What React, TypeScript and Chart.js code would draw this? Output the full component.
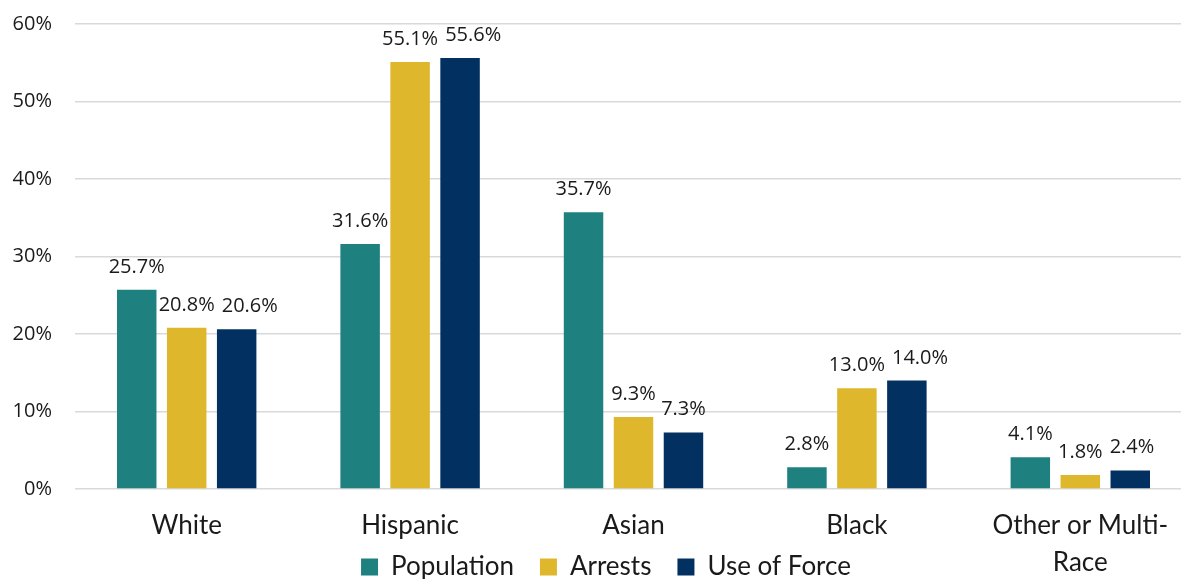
import React, { useEffect, useRef } from "react";
import { Chart, registerables } from "chart.js";

Chart.register(...registerables);

const categories: (string | string[])[] = ["White", "Hispanic", "Asian", "Black", ["Other or Multi-", "Race"]];
const population = [25.7, 31.6, 35.7, 2.8, 4.1];
const arrests = [20.8, 55.1, 9.3, 13.0, 1.8];
const useOfForce = [20.6, 55.6, 7.3, 14.0, 2.4];
const seriesNames = ["Population", "Arrests", "Use of Force"];
const seriesColors = ["#1F8080", "#DFB72D", "#023060"];
const yMin = 0;
const yMax = 60;
const yStep = 10;

const CANVAS_W = 1202;
const CANVAS_H = 651;
const LEGEND_TOP = 528;
const LEGEND_SHIFT_X = 10;

export default function App() {
  const ref = useRef<HTMLCanvasElement>(null);

  useEffect(() => {
    if (!ref.current) return;

    const valueLabels = {
      id: "valueLabels",
      afterDatasetsDraw(chart: any) {
        const ctx = chart.ctx;
        ctx.save();
        ctx.font = "20px 'Open Sans'";
        ctx.fillStyle = "#1a1a1a";
        ctx.textAlign = "left";
        ctx.textBaseline = "alphabetic";
        const nCats = chart.data.labels.length;
        const digitH = 15;
        const gap = 7;
        for (let j = 0; j < nCats; j++) {
          let prev: { l: number; r: number; t: number; b: number } | null = null;
          chart.data.datasets.forEach((ds: any, i: number) => {
            const bar: any = chart.getDatasetMeta(i).data[j];
            const text = (ds.data[j] as number).toFixed(1) + "%";
            const w = ctx.measureText(text).width;
            const base = bar.y - 17;
            let left = bar.x - w / 2;
            const box = { l: left, r: left + w, t: base - digitH, b: base };
            if (prev) {
              const yOverlap = Math.min(prev.b, box.b) - Math.max(prev.t, box.t);
              if (yOverlap > 3 && box.l < prev.r + gap) {
                left = prev.r + gap;
                box.l = left;
                box.r = left + w;
              }
            }
            ctx.fillText(text, left, base);
            prev = box;
          });
        }
        ctx.restore();
      },
    };

    const legendPlacer = {
      id: "legendPlacer",
      afterLayout(chart: any) {
        const lg = chart.legend;
        if (!lg) return;
        const h = lg.bottom - lg.top;
        lg.top = LEGEND_TOP;
        lg.bottom = LEGEND_TOP + h;
        lg.left += LEGEND_SHIFT_X;
        lg.right += LEGEND_SHIFT_X;
      },
    };

    const chart = new Chart(ref.current, {
      type: "bar",
      data: {
        labels: categories as any,
        datasets: [population, arrests, useOfForce].map((d, i) => ({
          label: seriesNames[i],
          data: d,
          backgroundColor: seriesColors[i],
          borderWidth: 0,
          categoryPercentage: 0.671,
          barPercentage: 0.79,
        })),
      },
      options: {
        responsive: false,
        animation: false,
        devicePixelRatio: 1,
        layout: { padding: { top: 24, right: 10, left: 0, bottom: 0 } },
        plugins: {
          legend: {
            position: "bottom",
            labels: {
              boxWidth: 17,
              boxHeight: 17,
              padding: 26,
              color: "#1a1a1a",
              font: { family: "Lato", size: 26 },
            },
          },
          tooltip: { enabled: false },
        },
        scales: {
          x: {
            grid: { display: false, drawTicks: false },
            border: { display: false },
            ticks: {
              color: "#1a1a1a",
              padding: 18,
              font: { family: "Lato", size: 26, lineHeight: 1.42 },
              maxRotation: 0,
              autoSkip: false,
            },
            afterFit: (axis: any) => {
              axis.height = 100;
            },
          },
          y: {
            min: yMin,
            max: yMax,
            grid: { color: "#d9d9d9", lineWidth: 1.5, drawTicks: true, tickLength: 20, tickColor: "rgba(0,0,0,0)" },
            border: { display: false },
            ticks: {
              stepSize: yStep,
              padding: 3,
              color: "#1a1a1a",
              font: { family: "Open Sans", size: 20 },
              callback: (v: any) => v + "%",
            },
            afterFit: (axis: any) => {
              axis.width = 75;
            },
          },
        },
      },
      plugins: [valueLabels, legendPlacer],
    });
    return () => chart.destroy();
  }, []);

  return (
    <div style={{ position: "fixed", left: 0, top: 0, width: CANVAS_W, height: CANVAS_H, background: "#fff" }}>
      <canvas ref={ref} width={CANVAS_W} height={CANVAS_H} style={{ width: CANVAS_W, height: CANVAS_H, display: "block" }} />
    </div>
  );
}
